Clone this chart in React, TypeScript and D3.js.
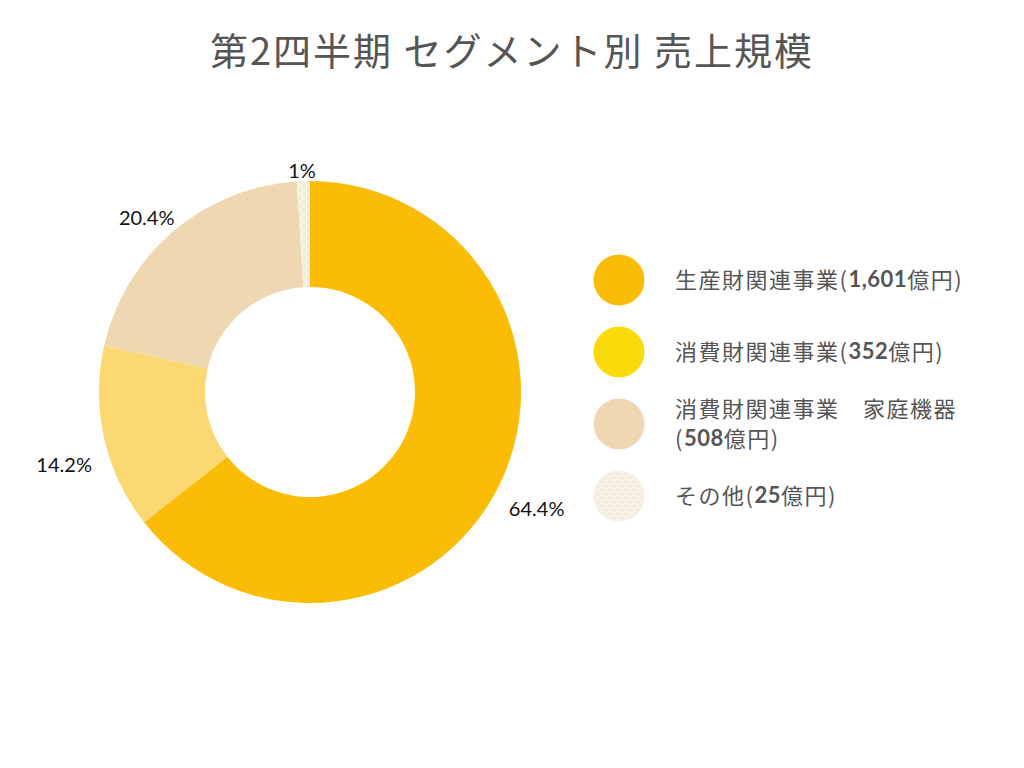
import React from "react";
import * as d3 from "d3";

const title = "第2四半期 セグメント別 売上規模";
const categories = ["生産財関連事業", "消費財関連事業", "消費財関連事業　家庭機器", "その他"];
const values = [1601, 352, 508, 25];
const percentLabels = ["64.4%", "14.2%", "20.4%", "1%"];
const legendLines = [
  ["生産財関連事業(1,601億円)"],
  ["消費財関連事業(352億円)"],
  ["消費財関連事業　家庭機器", "(508億円)"],
  ["その他(25億円)"],
];
const sliceColors = ["#FABC04", "#FCD873", "#EFD7B1", "url(#dots)"];
const legendColors = ["#FABC04", "#F9DA0A", "#EFD7B1", "url(#dots)"];

const W = 1024;
const H = 768;
const cx = 310;
const cy = 392;
const outerR = 211;
const innerR = 105;

function splitRuns(s: string) {
  const parts: { t: string; latin: boolean }[] = [];
  const re = /[0-9,]+/g;
  let last = 0;
  let m;
  while ((m = re.exec(s))) {
    if (m.index > last) parts.push({ t: s.slice(last, m.index), latin: false });
    parts.push({ t: m[0], latin: true });
    last = m.index + m[0].length;
  }
  if (last < s.length) parts.push({ t: s.slice(last), latin: false });
  return parts;
}

export default function App() {
  const pie = d3.pie<number>().sort(null).value((d) => d)(values);
  const arc = d3.arc<d3.PieArcDatum<number>>().innerRadius(innerR).outerRadius(outerR);

  const legendY = d3.scalePoint<number>().domain(d3.range(4)).range([280, 496]);

  return (
    <svg width={W} height={H} style={{ position: "absolute", left: 0, top: 0 }}>
      <defs>
        <pattern id="dots" patternUnits="userSpaceOnUse" width="8" height="8">
          <rect width="8" height="8" fill="#F8F0E0" />
          <circle cx="2" cy="2" r="0.7" fill="#D9D2DC" />
          <circle cx="6" cy="6" r="0.7" fill="#D9D2DC" />
        </pattern>
      </defs>
      <rect width={W} height={H} fill="#fff" />
      <text
        x={W / 2}
        y={48}
        textAnchor="middle"
        dominantBaseline="central"
        fontFamily="'Noto Sans CJK JP', 'Noto Sans', sans-serif"
        fontSize={38}
        letterSpacing={2}
        fill="#555"
      >
        {title}
      </text>
      <g transform={`translate(${cx},${cy})`}>
        {pie.map((p, i) => (
          <path key={i} d={arc(p) || ""} fill={sliceColors[i]} />
        ))}
        {pie.map((p, i) => {
          const a = (p.startAngle + p.endAngle) / 2;
          const s = Math.sin(a);
          const c = Math.cos(a);
          const x = 252 * s;
          const y = -222 * c + 24 * s * s * (c < 0 ? 1 : -0.6);
          return (
            <text
              key={i}
              x={x}
              y={y}
              textAnchor="middle"
              dominantBaseline="central"
              fontFamily="Lato, 'Noto Sans', sans-serif"
              fontSize={20}
              fill="#111"
            >
              {percentLabels[i]}
            </text>
          );
        })}
      </g>
      <g>
        {categories.map((c, i) => {
          const y = legendY(i) as number;
          const lines = legendLines[i];
          const lh = 30;
          const y0 = y - ((lines.length - 1) * lh) / 2 - 2;
          return (
            <g key={c}>
              <circle cx={619} cy={y} r={25.5} fill={legendColors[i]} />
              {lines.map((ln, j) => (
                <text
                  key={j}
                  x={675}
                  y={y0 + j * lh}
                  dominantBaseline="central"
                  fontFamily="'Noto Sans CJK JP', sans-serif"
                  fontSize={22}
                  letterSpacing={1.5}
                  fill="#555"
                >
                  {splitRuns(ln).map((r, k) =>
                    r.latin ? (
                      <tspan key={k} fontFamily="Lato, sans-serif" fontWeight={700} letterSpacing={0.5}>
                        {r.t}
                      </tspan>
                    ) : (
                      <tspan key={k}>{r.t}</tspan>
                    )
                  )}
                </text>
              ))}
            </g>
          );
        })}
      </g>
    </svg>
  );
}
